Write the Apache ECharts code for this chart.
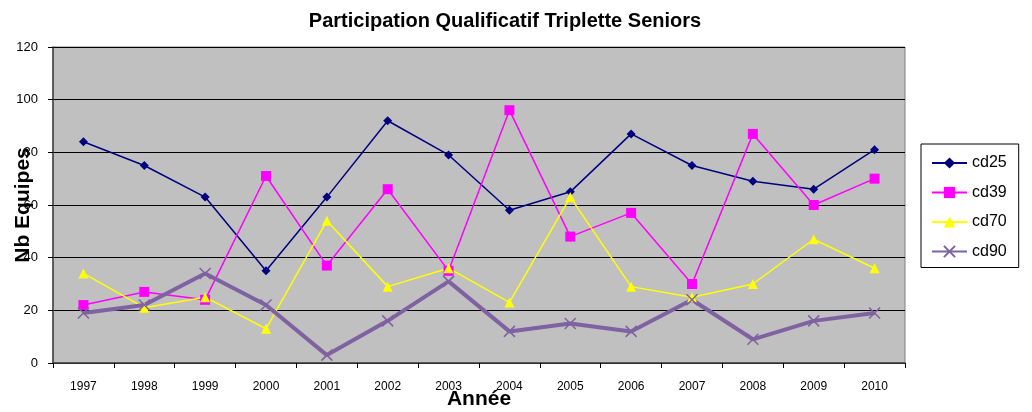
<!DOCTYPE html>
<html><head><meta charset="utf-8">
<script src="https://cdn.jsdelivr.net/npm/echarts@6/dist/echarts.min.js"></script>
<style>html,body{margin:0;padding:0;background:#fff}#c{width:1032px;height:412px}</style>
</head><body><div id="c"></div>
<script>
var years = ['1997','1998','1999','2000','2001','2002','2003','2004','2005','2006','2007','2008','2009','2010'];
var cd25 = [84,75,63,35,63,92,79,58,65,87,75,69,66,81];
var cd39 = [22,27,24,71,37,66,35,96,48,57,30,87,60,70];
var cd70 = [34,21,25,13,54,29,36,23,63,29,25,30,47,36];
var cd90 = [19,22,34,22,3,16,31,12,15,12,24,9,16,19];

var FONT = '"Liberation Sans", Arial, sans-serif';
var chart = echarts.init(document.getElementById('c'), null, {renderer:'canvas'});
chart.setOption({
  animation:false,
  backgroundColor:'#fff',
  textStyle:{fontFamily:FONT},
  title:{text:'Participation Qualificatif Triplette Seniors', left:500, textAlign:'center', top:6,
    textStyle:{fontFamily:FONT, fontSize:20, fontWeight:'bold', color:'#000'}},
  grid:{left:53, right:127, top:47, bottom:49, outerBoundsMode:'none', containLabel:false,
    show:true, backgroundColor:'#C0C0C0', borderColor:'#808080', borderWidth:1},
  legend:{orient:'vertical', left:921, top:144, padding:[11,12,8,10], itemGap:13.5,
    borderColor:'#000', borderWidth:1, backgroundColor:'#fff', itemWidth:35, itemHeight:14,
    textStyle:{fontFamily:FONT, fontSize:16, color:'#000'},
    data:['cd25','cd39','cd70','cd90']},
  xAxis:{type:'category', data:years, boundaryGap:true,
    name:'Année', nameLocation:'middle', nameGap:26, nameMoveOverlap:false,
    nameTextStyle:{fontFamily:FONT, fontSize:21, fontWeight:'bold', color:'#000'},
    axisLine:{lineStyle:{color:'#404040', width:1.5}},
    axisTick:{show:true, length:5, lineStyle:{color:'#000'}},
    axisLabel:{fontFamily:FONT, fontSize:12, color:'#000', margin:18}},
  yAxis:{type:'value', min:0, max:120, interval:20,
    name:'Nb Equipes', nameLocation:'middle', nameGap:19, nameMoveOverlap:false,
    nameTextStyle:{fontFamily:FONT, fontSize:21, fontWeight:'bold', color:'#000'},
    axisLine:{show:true, lineStyle:{color:'#404040', width:1.5}},
    axisTick:{show:true, length:5, lineStyle:{color:'#000'}},
    splitLine:{lineStyle:{color:'#000', width:1}},
    axisLabel:{fontFamily:FONT, fontSize:13, color:'#000', margin:15}},
  series:[
    {name:'cd25', type:'line', data:cd25, symbol:'diamond', symbolSize:9,
      lineStyle:{color:'#000080', width:1.5}, itemStyle:{color:'#000080'}},
    {name:'cd39', type:'line', data:cd39, symbol:'rect', symbolSize:10,
      lineStyle:{color:'#FF00FF', width:1.5}, itemStyle:{color:'#FF00FF'}},
    {name:'cd70', type:'line', data:cd70, symbol:'triangle', symbolSize:10,
      lineStyle:{color:'#FFFF00', width:1.5}, itemStyle:{color:'#FFFF00'}},
    {name:'cd90', type:'line', data:cd90, symbol:'path://M0,0L10,10M10,0L0,10', symbolSize:11,
      lineStyle:{color:'#7F62A1', width:4}, itemStyle:{color:'#7F62A1', borderColor:'#7F62A1', borderWidth:1.5}}
  ]
});
</script></body></html>
